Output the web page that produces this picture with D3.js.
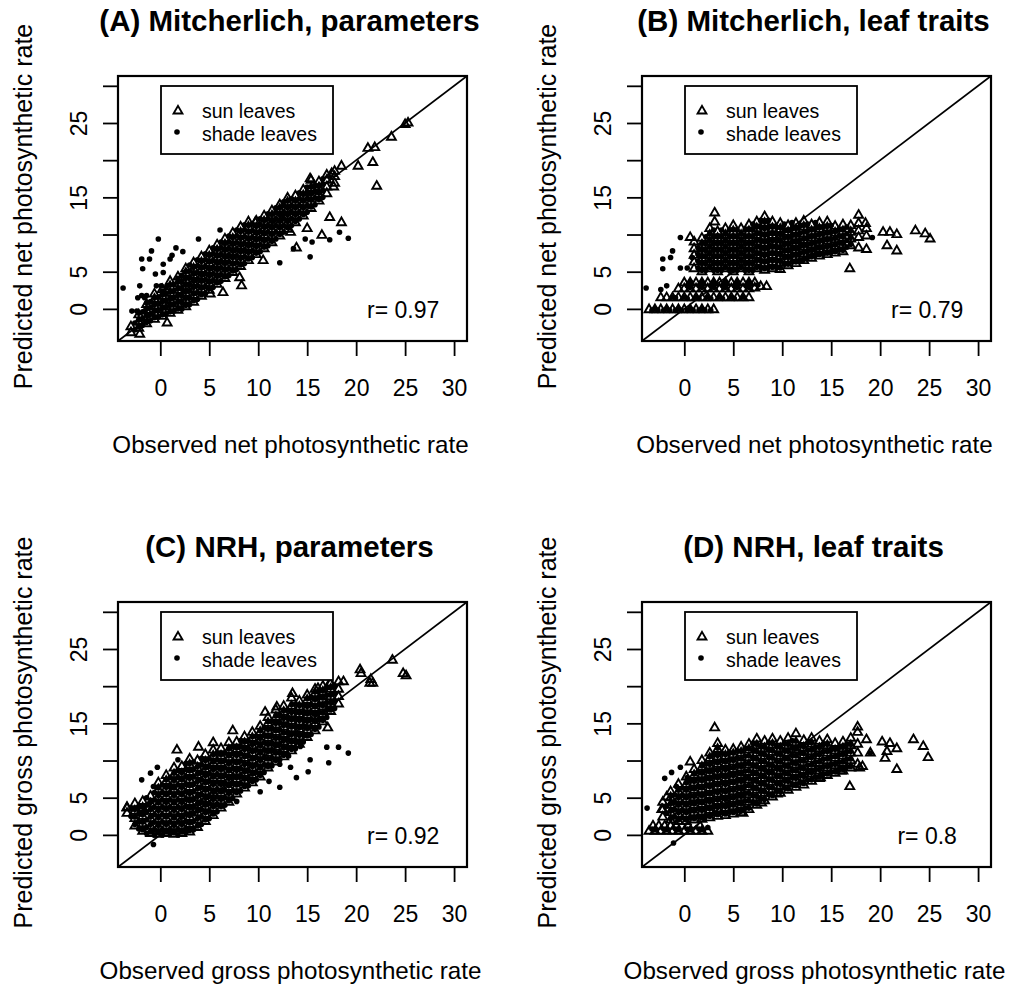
<!DOCTYPE html>
<html>
<head>
<meta charset="utf-8">
<script src="https://cdn.jsdelivr.net/npm/d3@7"></script>
<style>
  body { margin: 0; background: #fff; }
  text { font-family: "Liberation Sans", Arial, sans-serif; fill: #000; }
</style>
</head>
<body>
<svg id="chart" width="1010" height="989"></svg>
<script>

// axis settings shared by the four panels (R style: lims -3..30, 4% padding)
const axisDomain = [-4.32, 31.32];
const xTicks = [0, 5, 10, 15, 20, 25, 30];
const yTicks = [0, 5, 10, 15, 20, 25, 30];
const yTickLabels = ['0', '5', '', '15', '', '25', ''];

const titles = ['(A) Mitcherlich, parameters', '(B) Mitcherlich, leaf traits',
                '(C) NRH, parameters', '(D) NRH, leaf traits'];
const xLabels = ['Observed net photosynthetic rate', 'Observed net photosynthetic rate',
                 'Observed gross photosynthetic rate', 'Observed gross photosynthetic rate'];
const yLabels = ['Predicted net photosynthetic rate', 'Predicted net photosynthetic rate',
                 'Predicted gross photosynthetic rate', 'Predicted gross photosynthetic rate'];
const rLabels = ['r= 0.97', 'r= 0.79', 'r= 0.92', 'r= 0.8'];
const legendLabels = ['sun leaves', 'shade leaves'];

/* points: each entry is [observed, predicted1, predicted2, ...] */
const sunA = [
  [-3.0,-3.2,-2.4],[-2.2,-2.6,-1.7,-0.8],[-1.4,-2.0,-1.1,-0.2,0.6],[-0.6,-1.4,-0.5,0.4,1.3,2.0],
  [0.2,-1.0,-0.1,0.8,1.7,2.6],[1.0,-0.6,0.3,1.2,2.1,3.0,3.7],[1.8,-0.2,0.7,1.6,2.5,3.4,4.3],
  [2.6,0.3,1.2,2.1,3.0,3.9,4.8,5.4],[3.4,0.9,1.8,2.7,3.6,4.5,5.4,6.2],[4.2,1.7,2.6,3.5,4.4,5.3,6.2,7.0],
  [5.0,2.5,3.4,4.3,5.2,6.1,7.0,7.8],[5.8,3.3,4.2,5.1,6.0,6.9,7.8,8.6],[6.6,4.1,5.0,5.9,6.8,7.7,8.6,9.4],
  [7.4,4.9,5.8,6.7,7.6,8.5,9.4,10.2],[8.2,5.7,6.6,7.5,8.4,9.3,10.2,11.0],[9.0,6.5,7.4,8.3,9.2,10.1,11.0,11.7],
  [9.8,7.3,8.2,9.1,10.0,10.9,11.8],[10.6,8.1,9.0,9.9,10.8,11.7,12.5],[11.4,8.9,9.8,10.7,11.6,12.5,13.2],
  [12.2,9.8,10.7,11.6,12.5,13.4,14.0],[13.0,10.7,11.6,12.5,13.4,14.3,14.9],[13.8,11.6,12.5,13.4,14.3,15.2],
  [14.6,12.5,13.4,14.3,15.2,16.0],[15.4,13.5,14.4,15.3,16.2,17.3],[16.2,14.5,15.4,16.3,17.1],
  [17.0,15.5,16.4,17.3,18.0],[17.8,16.9,17.8,18.5],
  [18.5,19.2],[20.2,19.2],[21.7,19.7],[21.2,21.6],[21.9,21.7],[23.6,23.1],[25.0,24.8],[25.3,25.0],
  [22.1,16.5],[17.5,18.2],[17.7,16.4],[15.3,17.5],[18.5,11.6],[17.3,12.3],[16.5,9.9],[15.0,10.8],
  [13.3,10.3],[13.9,8.2],[10.5,6.5],[8.1,4.2],[8.3,3.1],[6.4,2.2],[5.1,2.0],[0.7,-1.9],[-2.1,-3.4],[9.7,11.6]
];
const shadeA = [
  [-2.6,-2.8,-1.9],[-1.8,-2.2,-1.3,-0.4],[-1.0,-1.6,-0.7,0.2,1.0],[-0.2,-1.1,-0.2,0.7,1.6],
  [0.6,-0.7,0.2,1.1,2.0,2.9],[1.4,-0.3,0.6,1.5,2.4,3.3],[2.2,0.0,0.9,1.8,2.7,3.6,4.5],
  [3.0,0.6,1.5,2.4,3.3,4.2,5.1,5.9],[3.8,1.3,2.2,3.1,4.0,4.9,5.8,6.6],[4.6,2.1,3.0,3.9,4.8,5.7,6.6,7.4],
  [5.4,2.9,3.8,4.7,5.6,6.5,7.4,8.2],[6.2,3.7,4.6,5.5,6.4,7.3,8.2,9.0],[7.0,4.5,5.4,6.3,7.2,8.1,9.0,9.8],
  [7.8,5.3,6.2,7.1,8.0,8.9,9.8,10.6],[8.6,6.1,7.0,7.9,8.8,9.7,10.6,11.3],[9.4,6.9,7.8,8.7,9.6,10.5,11.4],
  [10.2,7.7,8.6,9.5,10.4,11.3,12.1],[11.0,8.5,9.4,10.3,11.2,12.1,12.8],[11.8,9.4,10.3,11.2,12.1,13.0,13.6],
  [12.6,10.3,11.2,12.1,13.0,13.9,14.4],[13.4,11.2,12.1,13.0,13.9,14.8],[14.2,12.1,13.0,13.9,14.8,15.6],
  [15.0,13.0,13.9,14.8,15.7,16.4],[15.8,14.0,14.9,15.8,16.6],[16.6,15.0,15.9,16.8,17.5],
  [-3.8,2.8],[-0.2,9.4],[-0.9,7.8],[-1.9,6.7],[-1.1,6.7],[-1.8,5.4],[-0.5,4.7],[0.3,4.9],[-2.1,3.1],
  [-0.4,3.1],[0.1,3.1],[-1.9,1.8],[-1.4,1.8],[-2.3,1.5],[-1.6,1.5],[-2.9,-0.3],[-2.4,-0.3],[-1.6,-0.3],
  [1.2,7.2],[0.3,6.0],[1.0,6.7],[1.6,8.2],[2.3,7.7],[3.9,9.4],[6.1,10.6],[18.3,10.3],[19.2,9.5],
  [15.3,7.0],[15.5,9.0],[17.3,9.3],[12.2,6.2],[14.8,9.4],[13.6,8.1]
];
// shade leaves hidden inside the solid core of the cloud
const shadeCoreA = [
  [-2.2,-2.4,-1.5,-0.6],[-1.4,-1.8,-0.9,0.0,0.8],[-0.6,-1.2,-0.3,0.6,1.5],[0.2,-0.8,0.1,1.0,1.9,2.4],
  [1.0,-0.4,0.5,1.4,2.3,3.2],[1.8,0.0,0.9,1.8,2.7,3.6,4.1],[2.6,0.5,1.4,2.3,3.2,4.1,5.0],
  [3.4,1.1,2.0,2.9,3.8,4.7,5.6],[4.2,1.9,2.8,3.7,4.6,5.5,6.4],[5.0,2.7,3.6,4.5,5.4,6.3,7.2],
  [5.8,3.5,4.4,5.3,6.2,7.1,8.0],[6.6,4.3,5.2,6.1,7.0,7.9,8.8],[7.4,5.1,6.0,6.9,7.8,8.7,9.6],
  [8.2,5.9,6.8,7.7,8.6,9.5,10.4],[9.0,6.7,7.6,8.5,9.4,10.3,11.2],[9.8,7.5,8.4,9.3,10.2,11.1],
  [10.6,8.3,9.2,10.1,11.0,11.9],[11.4,9.1,10.0,10.9,11.8,12.7],[12.2,10.0,10.9,11.8,12.7,13.6],
  [13.0,10.9,11.8,12.7,13.6,14.5],[13.8,11.8,12.7,13.6,14.5],[14.6,12.7,13.6,14.5,15.4],
  [15.4,13.7,14.6,15.5,16.4],[16.2,14.7,15.6,16.5]
];

const sunB = [
  [-3.6,-0.1],[-3.0,-0.1],[-2.4,-0.1],[-1.8,-0.1],[-1.2,-0.1],[-0.6,-0.1],[0.0,-0.1],[0.6,-0.1],
  [1.2,-0.1],[1.8,-0.1],[2.4,-0.1],[3.0,-0.1],
  [-2.4,1.5],[-1.8,1.5],[-1.2,1.5],[-0.6,1.5],[0.0,1.5],[0.6,1.5],[1.2,1.5],[1.8,1.5],[2.4,1.5],
  [3.0,1.5],[3.6,1.5],[4.2,1.5],[4.8,1.5],[5.4,1.5],[6.0,1.5],[6.6,1.5],
  [-0.6,2.7],[0.0,2.7,3.5],[0.6,2.7,3.5],[1.2,2.7,3.5],[1.8,2.7,3.5],[2.4,2.7,3.5],[3.0,2.7,3.5],
  [3.6,2.7,3.5],[4.2,2.7,3.5],[4.8,2.7,3.5],[5.4,2.7,3.5],[6.0,2.7,3.5],[6.6,2.7,3.5],[7.2,2.8,3.5],
  [7.8,3.0],[8.4,3.0],
  [1.0,5.4,6.3,7.2,8.1,9.0],[1.8,5.0,5.9,6.8,7.7,8.6,9.5],[2.6,5.4,6.3,7.2,8.1,9.0,9.9,10.8],
  [3.1,11.7,12.9],[3.4,5.0,5.9,6.8,7.7,8.6,9.5,10.4],[4.2,5.4,6.3,7.2,8.1,9.0,9.9,10.8],
  [5.0,5.0,5.9,6.8,7.7,8.6,9.5,10.4,11.2],[5.8,5.4,6.3,7.2,8.1,9.0,9.9,10.8],
  [6.6,5.0,5.9,6.8,7.7,8.6,9.5,10.4,11.3],[7.4,5.4,6.3,7.2,8.1,9.0,9.9,10.8,11.7],
  [8.2,5.2,6.1,7.0,7.9,8.8,9.7,10.6,11.5,12.4],[9.0,5.4,6.3,7.2,8.1,9.0,9.9,10.8,11.7],
  [9.8,5.3,6.2,7.1,8.0,8.9,9.8,10.7,11.5],[10.6,5.8,6.7,7.6,8.5,9.4,10.3,11.2],
  [11.4,6.1,7.0,7.9,8.8,9.7,10.6,11.5],[12.2,6.5,7.4,8.3,9.2,10.1,11.0,11.8],
  [13.0,6.8,7.7,8.6,9.5,10.4,11.3],[13.8,7.1,8.0,8.9,9.8,10.7,11.6],[14.6,7.3,8.2,9.1,10.0,10.9,11.7],
  [15.4,7.5,8.4,9.3,10.2,11.1],[16.2,7.7,8.6,9.5,10.4,11.3],[17.0,8.5,9.4,10.3,11.2],
  [17.8,8.2,9.6,10.5,11.5,12.6],[18.6,8.0,9.8,10.8],
  [20.3,10.3],[21.0,10.3],[21.7,10.0],[23.6,10.5],[24.6,10.1],[25.1,9.4],[20.7,8.5],[21.7,7.8],
  [16.9,5.4],[0.6,9.6],[18.5,11.5]
];
const shadeB = [
  [-3.3,-0.2],[-2.7,-0.2],[-2.1,-0.2],[-1.5,-0.2],[-0.9,-0.2],[-0.3,-0.2],[0.3,-0.2],[0.9,-0.2],
  [1.5,-0.2],[2.1,-0.2],[2.7,-0.2],
  [-0.9,1.5],[0.3,1.4],[1.5,1.4],[2.7,1.4],[3.9,1.4],[5.1,1.4],
  [0.3,3.1],[1.5,3.1],[2.7,3.1],[3.9,3.1],[5.1,3.1],[6.3,3.1],[7.5,3.2],
  [1.4,5.5,6.4,7.3,8.2],[2.2,5.2,6.1,7.0,7.9,8.8,9.7],[3.0,5.2,6.1,7.0,7.9,8.8,9.7,10.6],
  [3.8,5.2,6.1,7.0,7.9,8.8,9.7,10.6],[4.6,5.2,6.1,7.0,7.9,8.8,9.7,10.6],
  [5.4,5.2,6.1,7.0,7.9,8.8,9.7,10.6],[6.2,5.2,6.1,7.0,7.9,8.8,9.7,10.6],
  [7.0,5.2,6.1,7.0,7.9,8.8,9.7,10.6,11.4],[7.8,5.6,6.5,7.4,8.3,9.2,10.1,11.0,11.9],
  [8.6,5.6,6.5,7.4,8.3,9.2,10.1,11.0,11.9],[9.4,5.6,6.5,7.4,8.3,9.2,10.1,11.0],
  [10.2,6.0,6.9,7.8,8.7,9.6,10.5,11.4],[11.0,6.3,7.2,8.1,9.0,9.9,10.8,11.6],
  [11.8,6.6,7.5,8.4,9.3,10.2,11.1],[12.6,6.9,7.8,8.7,9.6,10.5,11.4],[13.4,7.2,8.1,9.0,9.9,10.8,11.6],
  [14.2,7.4,8.3,9.2,10.1,11.0],[15.0,7.6,8.5,9.4,10.3,11.2],[15.8,8.0,8.9,9.8,10.7],
  [16.6,8.3,9.2,10.1,11.0],
  [-3.9,2.8],[-2.2,6.7],[-1.4,6.9],[-1.2,7.8],[-2.2,5.4],[-0.4,9.6],[-1.8,3.1],[-0.4,5.5],
  [0.8,6.9],[0.3,5.5],[-2.4,2.6],[12.1,6.5],[13.1,7.2],[19.2,9.6]
];
const shadeCoreB = [
  [-3.0,0.0],[-1.8,0.0],[-0.6,0.0],[0.6,0.0],[1.8,0.0],
  [-1.2,1.6],[0.0,1.6],[1.2,1.6],[2.4,1.6],[3.6,1.6],[4.8,1.6],[6.0,1.6],
  [0.6,2.9,3.6],[1.8,2.9,3.6],[3.0,2.9,3.6],[4.2,2.9,3.6],[5.4,2.9,3.6],[6.6,2.9,3.6],
  [1.8,5.2,6.1,7.0,7.9,8.8],[2.6,5.6,6.5,7.4,8.3,9.2,10.1],[3.4,5.2,6.1,7.0,7.9,8.8,9.7],
  [4.2,5.6,6.5,7.4,8.3,9.2,10.1],[5.0,5.2,6.1,7.0,7.9,8.8,9.7,10.6],[5.8,5.6,6.5,7.4,8.3,9.2,10.1],
  [6.6,5.2,6.1,7.0,7.9,8.8,9.7,10.6],[7.4,5.6,6.5,7.4,8.3,9.2,10.1,11.0],
  [8.2,5.4,6.3,7.2,8.1,9.0,9.9,10.8,11.7],[9.0,5.6,6.5,7.4,8.3,9.2,10.1,11.0],
  [9.8,5.5,6.4,7.3,8.2,9.1,10.0,10.9],[10.6,6.0,6.9,7.8,8.7,9.6,10.5],[11.4,6.3,7.2,8.1,9.0,9.9,10.8],
  [12.2,6.7,7.6,8.5,9.4,10.3,11.2],[13.0,7.0,7.9,8.8,9.7,10.6],[13.8,7.3,8.2,9.1,10.0,10.9],
  [14.6,7.5,8.4,9.3,10.2,11.1],[15.4,7.7,8.6,9.5,10.4],[16.2,7.9,8.8,9.7,10.6],[17.0,8.7,9.6,10.5]
];

const sunC = [
  [-3.4,2.9,3.7],[-2.6,1.2,2.2,3.2,4.2],[-1.8,0.5,1.5,2.5,3.5,4.5],[-1.0,0.2,1.2,2.2,3.2,4.2,5.2],
  [-0.2,0.1,1.1,2.1,3.1,4.1,5.1,6.1,7.0],[0.6,0.2,1.2,2.2,3.2,4.2,5.2,6.2,7.2,8.0],
  [1.4,0.1,1.1,2.1,3.1,4.1,5.1,6.1,7.1,8.1,9.0],[2.2,0.2,1.2,2.2,3.2,4.2,5.2,6.2,7.2,8.2,9.2],
  [3.0,0.4,1.4,2.4,3.4,4.4,5.4,6.4,7.4,8.4,9.4,10.2],[3.8,1.0,2.0,3.0,4.0,5.0,6.0,7.0,8.0,9.0,10.0],
  [4.6,1.8,2.8,3.8,4.8,5.8,6.8,7.8,8.8,9.8,10.8],[5.4,2.6,3.6,4.6,5.6,6.6,7.6,8.6,9.6,10.6,11.4],
  [6.2,3.6,4.6,5.6,6.6,7.6,8.6,9.6,10.6,11.6],[7.0,4.4,5.4,6.4,7.4,8.4,9.4,10.4,11.4,12.4],
  [7.8,5.5,6.5,7.5,8.5,9.5,10.5,11.5,12.5],[8.6,6.3,7.3,8.3,9.3,10.3,11.3,12.3,13.2],
  [9.4,7.0,8.0,9.0,10.0,11.0,12.0,13.0,13.8],[10.2,7.8,8.8,9.8,10.8,11.8,12.8,13.8,14.6],
  [11.0,9.0,10.0,11.0,12.0,13.0,14.0,15.0,15.8],[11.8,9.8,10.8,11.8,12.8,13.8,14.8,15.8,16.8],
  [12.6,10.5,11.5,12.5,13.5,14.5,15.5,16.5,17.3],[13.4,11.3,12.3,13.3,14.3,15.3,16.3,17.3,18.4],
  [14.2,12.2,13.2,14.2,15.2,16.2,17.2,18.0],[15.0,13.1,14.1,15.1,16.1,17.1,18.1,18.8],
  [15.8,14.0,15.0,16.0,17.0,18.0,19.0,19.6],[16.6,15.2,16.2,17.2,18.2,19.2,20.0],
  [17.4,16.6,17.6,18.6,19.6,20.4],[18.2,17.6,18.6,19.6,20.6],
  [18.7,20.6],[20.4,22.2],[20.5,21.7],[21.4,20.4],[21.7,20.4],[21.5,20.9],[23.7,23.5],[24.8,21.7],
  [25.1,21.4],[1.7,11.4],[3.9,11.8],[5.4,12.4],[7.4,14.0],[10.7,16.5],[11.9,17.2],[13.5,19.0],
  [16.1,19.7],[17.3,20.4],[-3.4,3.6],[-1.8,3.6],[-1.3,3.6],[17.1,14.4]
];
const shadeC = [
  [-3.0,2.5,3.5],[-2.2,0.8,1.8,2.8,3.8],[-1.4,0.2,1.0,2.0,3.0,4.0,5.0],[-0.6,0.0,0.7,1.7,2.7,3.7,4.7,5.7],
  [0.2,0.0,0.7,1.7,2.7,3.7,4.7,5.7,6.7],[1.0,0.2,0.7,1.7,2.7,3.7,4.7,5.7,6.7,7.7],
  [1.8,0.0,0.7,1.7,2.7,3.7,4.7,5.7,6.7,7.7,8.7],[2.6,0.3,0.8,1.8,2.8,3.8,4.8,5.8,6.8,7.8,8.8,9.6],
  [3.4,0.7,1.8,2.8,3.8,4.8,5.8,6.8,7.8,8.8,9.8],[4.2,1.4,2.4,3.4,4.4,5.4,6.4,7.4,8.4,9.4,10.3],
  [5.0,2.2,3.2,4.2,5.2,6.2,7.2,8.2,9.2,10.2],[5.8,3.1,4.1,5.1,6.1,7.1,8.1,9.1,10.1,11.0],
  [6.6,4.0,5.0,6.0,7.0,8.0,9.0,10.0,11.0],[7.4,4.9,5.9,6.9,7.9,8.9,9.9,10.9,11.9],
  [8.2,5.9,6.9,7.9,8.9,9.9,10.9,11.9,12.7],[9.0,6.6,7.6,8.6,9.6,10.6,11.6,12.6],
  [9.8,7.4,8.4,9.4,10.4,11.4,12.4,13.3],[10.6,8.4,9.4,10.4,11.4,12.4,13.4,14.4],
  [11.4,9.3,10.3,11.3,12.3,13.3,14.3,15.3],[12.2,10.1,11.1,12.1,13.1,14.1,15.1,16.1],
  [13.0,10.8,11.8,12.8,13.8,14.8,15.8,16.8],[13.8,11.6,12.6,13.6,14.6,15.6,16.6,17.6],
  [14.6,12.5,13.5,14.5,15.5,16.5,17.5],[15.4,13.5,14.5,15.5,16.5,17.5,18.5],
  [16.2,14.5,15.5,16.5,17.5,18.5,19.3],[17.0,15.8,16.8,17.8,18.8,19.8],[17.8,17.0,18.0,19.0,20.0],
  [12.2,6.4],[13.9,7.7],[15.1,8.5],[17.0,11.8],[18.2,11.8],[19.2,11.0],[17.2,9.7],[15.3,10.1],
  [13.1,10.6],[13.3,9.1],[11.1,7.2],[10.2,5.8],[12.2,9.5],[14.3,11.9],[-1.9,7.4],[-1.0,8.3],
  [-0.3,9.1],[-0.7,6.5],[1.8,10.1],[1.0,6.5],[-0.7,-1.3],[7.8,4.5]
];
const shadeCoreC = [
  [-2.6,1.4,2.4,3.4],[-1.8,0.7,1.7,2.7,3.7],[-1.0,0.4,1.4,2.4,3.4,4.4],[-0.2,0.3,1.3,2.3,3.3,4.3,5.3,6.3],
  [0.6,0.4,1.4,2.4,3.4,4.4,5.4,6.4,7.4],[1.4,0.3,1.3,2.3,3.3,4.3,5.3,6.3,7.3,8.3],
  [2.2,0.4,1.4,2.4,3.4,4.4,5.4,6.4,7.4,8.4],[3.0,0.6,1.6,2.6,3.6,4.6,5.6,6.6,7.6,8.6,9.6],
  [3.8,1.2,2.2,3.2,4.2,5.2,6.2,7.2,8.2,9.2],[4.6,2.0,3.0,4.0,5.0,6.0,7.0,8.0,9.0,10.0],
  [5.4,2.8,3.8,4.8,5.8,6.8,7.8,8.8,9.8,10.8],[6.2,3.8,4.8,5.8,6.8,7.8,8.8,9.8,10.8],
  [7.0,4.6,5.6,6.6,7.6,8.6,9.6,10.6,11.6],[7.8,5.7,6.7,7.7,8.7,9.7,10.7,11.7],
  [8.6,6.5,7.5,8.5,9.5,10.5,11.5,12.5],[9.4,7.2,8.2,9.2,10.2,11.2,12.2,13.2],
  [10.2,8.0,9.0,10.0,11.0,12.0,13.0,14.0],[11.0,9.2,10.2,11.2,12.2,13.2,14.2,15.2],
  [11.8,10.0,11.0,12.0,13.0,14.0,15.0,16.0],[12.6,10.7,11.7,12.7,13.7,14.7,15.7,16.7],
  [13.4,11.5,12.5,13.5,14.5,15.5,16.5,17.5],[14.2,12.4,13.4,14.4,15.4,16.4,17.4],
  [15.0,13.3,14.3,15.3,16.3,17.3,18.3],[15.8,14.2,15.2,16.2,17.2,18.2,19.2],
  [16.6,15.4,16.4,17.4,18.4,19.4],[17.4,16.8,17.8,18.8,19.8]
];

const sunD = [
  [-3.6,0.5],[-3.0,0.5],[-2.4,0.5],[-1.8,0.5],[-1.2,0.5],[-0.6,0.5],[0.0,0.5],[0.6,0.5],[1.2,0.5],
  [1.8,0.5],[2.4,0.5],[-3.2,1.2],[-2.6,1.2],[-2.0,1.2],[-1.4,1.2],[-0.8,1.2],[0.4,1.2],[1.6,1.2],
  [-2.2,2.4,3.4,4.4],[-1.4,2.0,3.0,4.0,5.0,5.8],[-0.6,1.8,2.8,3.8,4.8,5.8,6.8],
  [0.2,1.8,2.8,3.8,4.8,5.8,6.8,7.8],[1.0,2.0,3.0,4.0,5.0,6.0,7.0,8.0,8.8],
  [1.8,2.1,3.1,4.1,5.1,6.1,7.1,8.1,9.1,10.0],[2.6,2.3,3.3,4.3,5.3,6.3,7.3,8.3,9.3,10.3,11.0],
  [3.4,2.5,3.5,4.5,5.5,6.5,7.5,8.5,9.5,10.5,11.5,12.3],[4.2,2.6,3.6,4.6,5.6,6.6,7.6,8.6,9.6,10.6,11.4],
  [5.0,2.8,3.8,4.8,5.8,6.8,7.8,8.8,9.8,10.8,11.5],[5.8,3.0,4.0,5.0,6.0,7.0,8.0,9.0,10.0,11.0,11.8],
  [6.6,3.4,4.4,5.4,6.4,7.4,8.4,9.4,10.4,11.4,12.2],[7.4,4.0,5.0,6.0,7.0,8.0,9.0,10.0,11.0,12.0,12.9],
  [8.2,4.6,5.6,6.6,7.6,8.6,9.6,10.6,11.6,12.6],[9.0,5.1,6.1,7.1,8.1,9.1,10.1,11.1,12.1,12.9],
  [9.8,5.6,6.6,7.6,8.6,9.6,10.6,11.6,12.6],[10.6,6.0,7.0,8.0,9.0,10.0,11.0,12.0,13.0],
  [11.4,6.4,7.4,8.4,9.4,10.4,11.4,12.4,13.6],[12.2,6.7,7.7,8.7,9.7,10.7,11.7,12.7],
  [13.0,7.2,8.2,9.2,10.2,11.2,12.2,13.0],[13.8,7.6,8.6,9.6,10.6,11.6,12.6],
  [14.6,8.0,9.0,10.0,11.0,12.0,12.8],[15.4,8.3,9.3,10.3,11.3,12.3],[16.2,8.6,9.6,10.6,11.6,12.5],
  [17.0,9.0,10.0,11.0,12.0,13.0],[17.7,9.5,11.0,12.2,13.8,14.5],
  [18.6,12.8],[20.2,12.5],[21.0,12.3],[21.7,11.6],[23.4,12.8],[24.4,11.9],[24.9,10.4],[20.7,11.2],
  [20.5,10.3],[21.7,8.8],[17.9,9.0],[18.2,9.2],[16.9,6.5],[19.0,11.0],[3.1,14.4],[0.6,9.8],
  [-1.8,5.1],[-2.3,3.4],[6.0,2.9],[7.9,4.3],[9.5,5.5],[13.9,7.7],[16.0,8.6]
];
const shadeD = [
  [-3.3,0.8],[-2.1,0.8],[-0.9,0.8],[0.3,0.8],[1.5,0.8],[2.4,1.0],
  [-1.8,2.9,3.9],[-1.0,2.4,3.4,4.4,5.4],[-0.2,2.3,3.3,4.3,5.3,6.3],[0.6,2.3,3.3,4.3,5.3,6.3,7.3],
  [1.4,2.5,3.5,4.5,5.5,6.5,7.5,8.5],[2.2,2.6,3.6,4.6,5.6,6.6,7.6,8.6,9.6],
  [3.0,2.8,3.8,4.8,5.8,6.8,7.8,8.8,9.8,10.8],[3.8,3.0,4.0,5.0,6.0,7.0,8.0,9.0,10.0,11.0],
  [4.6,3.1,4.1,5.1,6.1,7.1,8.1,9.1,10.1,11.1],[5.4,3.3,4.3,5.3,6.3,7.3,8.3,9.3,10.3,11.3],
  [6.2,3.6,4.6,5.6,6.6,7.6,8.6,9.6,10.6,11.6],[7.0,4.3,5.3,6.3,7.3,8.3,9.3,10.3,11.3,12.3],
  [7.8,4.9,5.9,6.9,7.9,8.9,9.9,10.9,11.9],[8.6,5.4,6.4,7.4,8.4,9.4,10.4,11.4,12.4],
  [9.4,5.9,6.9,7.9,8.9,9.9,10.9,11.9],[10.2,6.3,7.3,8.3,9.3,10.3,11.3,12.3],
  [11.0,6.7,7.7,8.7,9.7,10.7,11.7,12.7],[11.8,7.0,8.0,9.0,10.0,11.0,12.0],
  [12.6,7.4,8.4,9.4,10.4,11.4,12.4],[13.4,7.8,8.8,9.8,10.8,11.8],[14.2,8.2,9.2,10.2,11.2,12.2],
  [15.0,8.5,9.5,10.5,11.5],[15.8,8.8,9.8,10.8,11.8],[16.6,9.2,10.2,11.2,12.2],
  [-3.8,3.6],[-2.0,7.6],[-1.3,8.4],[-0.4,9.1],[-0.8,6.5],[0.3,7.7],[-1.1,-1.1],[19.0,11.0]
];
const shadeCoreD = [
  [-3.0,0.7],[-1.8,0.7],[-0.6,0.7],[0.6,0.7],[1.8,0.7],
  [-1.4,2.2,3.2,4.2,5.2],[-0.6,2.0,3.0,4.0,5.0,6.0],[0.2,2.0,3.0,4.0,5.0,6.0,7.0],
  [1.0,2.2,3.2,4.2,5.2,6.2,7.2,8.2],[1.8,2.3,3.3,4.3,5.3,6.3,7.3,8.3,9.3],
  [2.6,2.5,3.5,4.5,5.5,6.5,7.5,8.5,9.5,10.5],[3.4,2.7,3.7,4.7,5.7,6.7,7.7,8.7,9.7,10.7,11.7],
  [4.2,2.8,3.8,4.8,5.8,6.8,7.8,8.8,9.8,10.8],[5.0,3.0,4.0,5.0,6.0,7.0,8.0,9.0,10.0,11.0],
  [5.8,3.2,4.2,5.2,6.2,7.2,8.2,9.2,10.2,11.2],[6.6,3.6,4.6,5.6,6.6,7.6,8.6,9.6,10.6,11.6],
  [7.4,4.2,5.2,6.2,7.2,8.2,9.2,10.2,11.2,12.2],[8.2,4.8,5.8,6.8,7.8,8.8,9.8,10.8,11.8],
  [9.0,5.3,6.3,7.3,8.3,9.3,10.3,11.3,12.3],[9.8,5.8,6.8,7.8,8.8,9.8,10.8,11.8],
  [10.6,6.2,7.2,8.2,9.2,10.2,11.2,12.2],[11.4,6.6,7.6,8.6,9.6,10.6,11.6,12.6],
  [12.2,6.9,7.9,8.9,9.9,10.9,11.9],[13.0,7.4,8.4,9.4,10.4,11.4,12.4],[13.8,7.8,8.8,9.8,10.8,11.8],
  [14.6,8.2,9.2,10.2,11.2,12.2],[15.4,8.5,9.5,10.5,11.5],[16.2,8.8,9.8,10.8,11.8],[17.0,9.2,10.2,11.2,12.2]
];

const sunSeries = [sunA, sunB, sunC, sunD];
const shadeSeries = [shadeA.concat(shadeCoreA), shadeB.concat(shadeCoreB),
                     shadeC.concat(shadeCoreC), shadeD.concat(shadeCoreD)];


/* layout of the 2x2 grid (pixels) */
const BOX = {left: 118, top: 76, width: 349, height: 265};
const STEP_X = 524, STEP_Y = 526;
const FONT = '"Liberation Sans", Arial, sans-serif';

const svg = d3.select('#chart');

function expand(columns) {
    return columns.flatMap(c => c.slice(1).map(y => [c[0], y]));
}

function drawPanel(i) {
    let left = BOX.left + (i % 2) * STEP_X;
    let top = BOX.top + Math.floor(i / 2) * STEP_Y;
    let right = left + BOX.width, bottom = top + BOX.height;

    let x = d3.scaleLinear().domain(axisDomain).range([left, right]);
    let y = d3.scaleLinear().domain(axisDomain).range([bottom, top]);
    let g = svg.append('g').attr('class', 'panel');

    // x axis, ticks hanging below the box
    let xAxis = g.append('g')
        .attr('transform', `translate(0,${bottom + 1})`)
        .call(d3.axisBottom(x).tickValues(xTicks).tickSize(14).tickSizeOuter(0));
    xAxis.select('.domain').remove();
    xAxis.selectAll('line').attr('stroke', '#000').attr('stroke-width', 1.8);
    xAxis.selectAll('text')
        .attr('y', 54).attr('dy', null)
        .attr('font-size', 23).attr('font-family', FONT);

    // y axis, labels turned like R does (las = 0)
    let yAxis = g.append('g')
        .attr('transform', `translate(${left},0)`)
        .call(d3.axisLeft(y).tickValues(yTicks).tickSize(15).tickSizeOuter(0)
            .tickFormat((d, k) => yTickLabels[k]));
    yAxis.select('.domain').remove();
    yAxis.selectAll('line').attr('stroke', '#000').attr('stroke-width', 1.8);
    yAxis.selectAll('text')
        .attr('x', null).attr('dy', null)
        .attr('text-anchor', 'middle')
        .attr('transform', 'translate(-31,0) rotate(-90)')
        .attr('font-size', 23).attr('font-family', FONT);

    // 1:1 line
    g.append('line')
        .attr('x1', x(axisDomain[0])).attr('y1', y(axisDomain[0]))
        .attr('x2', x(axisDomain[1])).attr('y2', y(axisDomain[1]))
        .attr('stroke', '#000').attr('stroke-width', 1.6);

    // sun leaves: open triangles (thick strokes, like the scanned figure)
    let tri = d3.symbol(d3.symbolTriangle, 34);
    g.append('g').selectAll('path')
        .data(expand(sunSeries[i]))
        .join('path')
        .attr('d', tri)
        .attr('transform', d => `translate(${x(d[0])},${y(d[1])})`)
        .attr('fill', 'none').attr('stroke', '#000').attr('stroke-width', 1.9);

    // shade leaves: small filled dots
    g.append('g').selectAll('circle')
        .data(expand(shadeSeries[i]))
        .join('circle')
        .attr('cx', d => x(d[0])).attr('cy', d => y(d[1]))
        .attr('r', 2.8).attr('fill', '#000');

    // plot box
    g.append('rect')
        .attr('x', left).attr('y', top)
        .attr('width', BOX.width).attr('height', BOX.height)
        .attr('fill', 'none').attr('stroke', '#000').attr('stroke-width', 2.2);

    // legend
    let lg = g.append('g').attr('transform', `translate(${left + 43},${top + 10})`);
    lg.append('rect').attr('width', 172).attr('height', 68)
        .attr('fill', '#fff').attr('stroke', '#000').attr('stroke-width', 1.8);
    lg.append('path').attr('d', tri).attr('transform', 'translate(17,25)')
        .attr('fill', 'none').attr('stroke', '#000').attr('stroke-width', 1.9);
    lg.append('circle').attr('cx', 16).attr('cy', 46).attr('r', 2.8).attr('fill', '#000');
    lg.selectAll('text.leg')
        .data(legendLabels)
        .join('text')
        .attr('class', 'leg')
        .attr('x', 41).attr('y', (d, k) => 32 + k * 23)
        .attr('font-size', 19.5)
        .text(d => d);

    // correlation note
    g.append('text')
        .attr('x', x(24.8)).attr('y', y(0) + 9)
        .attr('text-anchor', 'middle').attr('font-size', 23)
        .text(rLabels[i]);

    // title and axis labels
    let cx = (left + right) / 2;
    g.append('text')
        .attr('x', cx - 3).attr('y', top - 45)
        .attr('text-anchor', 'middle')
        .attr('font-size', 29.5).attr('font-weight', 'bold')
        .text(titles[i]);
    g.append('text')
        .attr('x', cx - 2).attr('y', bottom + 112)
        .attr('text-anchor', 'middle').attr('font-size', 24.2)
        .text(xLabels[i]);
    g.append('text')
        .attr('transform', `translate(${left - 86},${(top + bottom) / 2 - 2}) rotate(-90)`)
        .attr('text-anchor', 'middle').attr('font-size', 25)
        .text(yLabels[i]);
}

for (let i = 0; i < 4; i++) drawPanel(i);

</script>
</body>
</html>
